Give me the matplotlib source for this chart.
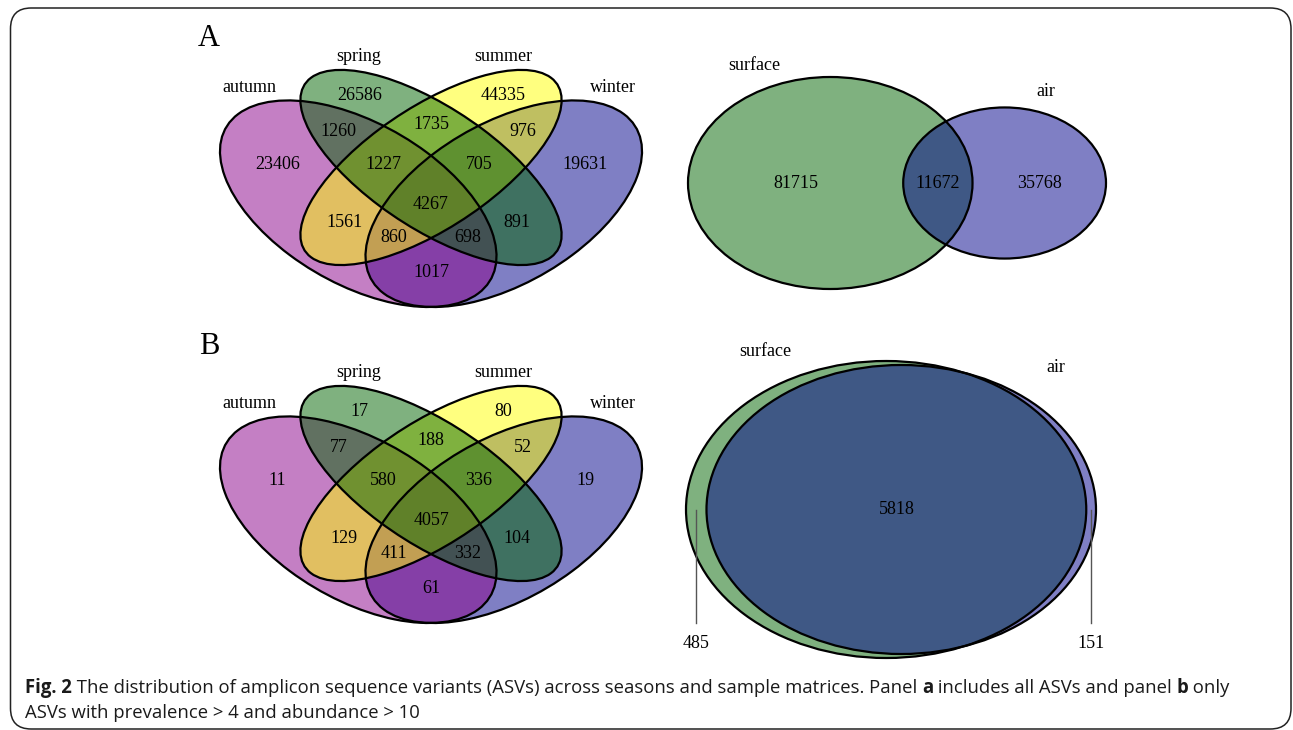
import numpy as np
import matplotlib
matplotlib.use("Agg")
import matplotlib.pyplot as plt
from matplotlib.patches import Ellipse, FancyBboxPatch

W, H, DPI = 1293, 730, 100

# ---------------- data ----------------
seasons = ["autumn", "spring", "summer", "winter"]
season_colors = {"autumn": "#8B008B", "spring": "#006400",
                 "summer": "#FFFF00", "winter": "#00008B"}

# region codes: a=autumn, s=spring, u=summer, w=winter
region_keys = ["a", "s", "u", "w", "as", "su", "uw", "asu", "suw",
               "asuw", "au", "sw", "auw", "asw", "aw"]
counts_all = [23406, 26586, 44335, 19631, 1260, 1735, 976, 1227, 705,
              4267, 1561, 891, 860, 698, 1017]
counts_filtered = [11, 17, 80, 19, 77, 188, 52, 580, 336,
                   4057, 129, 104, 411, 332, 61]

matrices = ["surface", "air"]
matrix_colors = ["#006400", "#00008B"]
surface_only = [81715, 485]
shared = [11672, 5818]
air_only = [35768, 151]

panel_letters = ["A", "B"]

# ---------------- layout ----------------
SERIF = "Liberation Serif"
NUM_SIZE = 13
LAB_SIZE = 13

# four-set ellipses in unit space: centre, semi-axes, angle
ellipse_geom = {
    "autumn": ((0.35, 0.47), 0.35, 0.20, -45),
    "spring": ((0.50, 0.57), 0.35, 0.15, -45),
    "summer": ((0.50, 0.57), 0.35, 0.15, 45),
    "winter": ((0.65, 0.47), 0.35, 0.20, 45),
}
fill_order = ["winter", "autumn", "summer", "spring"]
region_pos = {
    "a": (0.183, 0.577), "s": (0.352, 0.768), "u": (0.648, 0.768),
    "w": (0.818, 0.577), "as": (0.310, 0.668), "su": (0.500, 0.688),
    "uw": (0.690, 0.668), "asu": (0.401, 0.577), "suw": (0.599, 0.577),
    "asuw": (0.500, 0.469), "au": (0.321, 0.417), "sw": (0.678, 0.417),
    "auw": (0.424, 0.378), "asw": (0.575, 0.378), "aw": (0.500, 0.279),
}
cat_pos = {"autumn": (0.125, 0.790), "spring": (0.350, 0.876),
           "summer": (0.650, 0.876), "winter": (0.875, 0.790)}


fig = plt.figure(figsize=(W / DPI, H / DPI), dpi=DPI)


def axes_px(x0, y0, x1, y1):
    """Axes occupying the pixel box (x0, y0)-(x1, y1), y measured from top."""
    ax = fig.add_axes([x0 / W, 1 - y1 / H, (x1 - x0) / W, (y1 - y0) / H])
    ax.set_axis_off()
    return ax


def draw_quad(ax, counts):
    ax.set_xlim(0.065, 0.935)
    ax.set_ylim(0.185, 0.839)
    for name in fill_order:
        (cx, cy), a, b, ang = ellipse_geom[name]
        ax.add_patch(Ellipse((cx, cy), 2 * a, 2 * b, angle=ang,
                             facecolor=season_colors[name], alpha=0.5,
                             edgecolor="none", clip_on=False))
    for name in seasons:
        (cx, cy), a, b, ang = ellipse_geom[name]
        ax.add_patch(Ellipse((cx, cy), 2 * a, 2 * b, angle=ang,
                             facecolor="none", edgecolor="black",
                             lw=1.6, clip_on=False))
    for key, n in zip(region_keys, counts):
        x, y = region_pos[key]
        ax.text(x, y, str(n), ha="center", va="center", family=SERIF,
                fontsize=NUM_SIZE, clip_on=False)
    for name in seasons:
        x, y = cat_pos[name]
        ax.text(x, y, name, ha="center", va="center", family=SERIF,
                fontsize=LAB_SIZE, clip_on=False)


def lens_area(r1, r2, d):
    if d >= r1 + r2:
        return 0.0
    if d <= abs(r1 - r2):
        return np.pi * min(r1, r2) ** 2
    t1 = r1 ** 2 * np.arccos((d * d + r1 * r1 - r2 * r2) / (2 * d * r1))
    t2 = r2 ** 2 * np.arccos((d * d + r2 * r2 - r1 * r1) / (2 * d * r2))
    t3 = 0.5 * np.sqrt((-d + r1 + r2) * (d + r1 - r2) *
                       (d - r1 + r2) * (d + r1 + r2))
    return t1 + t2 - t3


def centre_distance(r1, r2, overlap):
    lo, hi = abs(r1 - r2), r1 + r2
    for _ in range(200):
        mid = 0.5 * (lo + hi)
        if lens_area(r1, r2, mid) > overlap:
            lo = mid
        else:
            hi = mid
    return 0.5 * (lo + hi)


def draw_pair(box, only1, both, only2, lab_px):
    x0, y0, x1, y1 = box
    r1 = np.sqrt((only1 + both) / np.pi)
    r2 = np.sqrt((only2 + both) / np.pi)
    d = centre_distance(r1, r2, both)
    ax = axes_px(x0, y0, x1, y1)
    ax.set_xlim(-r1, d + r2)
    ax.set_ylim(-r1, r1)
    px_per_x = (x1 - x0) / (r1 + d + r2)
    for (cx, r), col in zip([(0.0, r1), (d, r2)], matrix_colors):
        ax.add_patch(Ellipse((cx, 0), 2 * r, 2 * r, facecolor=col,
                             alpha=0.5, edgecolor="none", clip_on=False))
    for cx, r in [(0.0, r1), (d, r2)]:
        ax.add_patch(Ellipse((cx, 0), 2 * r, 2 * r, facecolor="none",
                             edgecolor="black", lw=1.6, clip_on=False))
    spans = [(-r1, d - r2), (d - r2, r1), (r1, d + r2)]
    for (lo, hi), n in zip(spans, [only1, both, only2]):
        xm = 0.5 * (lo + hi)
        if (hi - lo) * px_per_x < 40:
            ax.plot([xm, xm], [0, -0.765 * r1], color="#555555", lw=1.0,
                    clip_on=False)
            ax.text(xm, -0.90 * r1, str(n), ha="center", va="center",
                    family=SERIF, fontsize=NUM_SIZE, clip_on=False)
        else:
            ax.text(xm, 0, str(n), ha="center", va="center",
                    family=SERIF, fontsize=NUM_SIZE, clip_on=False)
    for name, (px, py) in zip(matrices, lab_px):
        fig.text(px / W, 1 - py / H, name, ha="center", va="center",
                 family=SERIF, fontsize=LAB_SIZE)


quad_boxes = [(220, 70, 642, 307), (220, 386, 642, 623)]
pair_boxes = [(688, 77, 1106, 289), (686, 361, 1096, 658)]
pair_labels = [[(754, 65), (1046, 92)], [(765, 351), (1056, 368)]]
letter_px = [(209, 38), (209, 347)]
quad_counts = [counts_all, counts_filtered]

for i in range(2):
    axq = axes_px(*quad_boxes[i])
    draw_quad(axq, quad_counts[i])
    draw_pair(pair_boxes[i], surface_only[i], shared[i], air_only[i],
              pair_labels[i])
    lx, ly = letter_px[i]
    fig.text(lx / W, 1 - ly / H, panel_letters[i], ha="center",
             va="center", family=SERIF, fontsize=22)

# frame around the figure
fig.patches.append(FancyBboxPatch(
    (10.5 / W, 1 - 729 / H), (1291 - 10.5) / W, (729 - 8) / H,
    boxstyle="round,pad=0,rounding_size=0.016", transform=fig.transFigure,
    facecolor="none", edgecolor="#222222", lw=1.1, mutation_aspect=W / H))

# caption with bold runs
CAP_FONT = "Open Sans"
CAP_SIZE = 13.35
renderer = fig.canvas.get_renderer()


def caption_line(pieces, x_px, base_px):
    x = x_px
    for txt, bold in pieces:
        t = fig.text(x / W, 1 - base_px / H, txt, ha="left", va="baseline",
                     family=CAP_FONT, fontsize=CAP_SIZE,
                     weight="bold" if bold else "normal", color="#1a1a1a")
        x = t.get_window_extent(renderer).x1


caption_line([("Fig. 2", True),
              (" The distribution of amplicon sequence variants (ASVs) "
               "across seasons and sample matrices. Panel ", False),
              ("a", True), (" includes all ASVs and panel ", False),
              ("b", True), (" only", False)], 25, 693)
caption_line([("ASVs with prevalence > 4 and abundance > 10", False)],
             25, 718)

fig.savefig("out.png", dpi=DPI)
